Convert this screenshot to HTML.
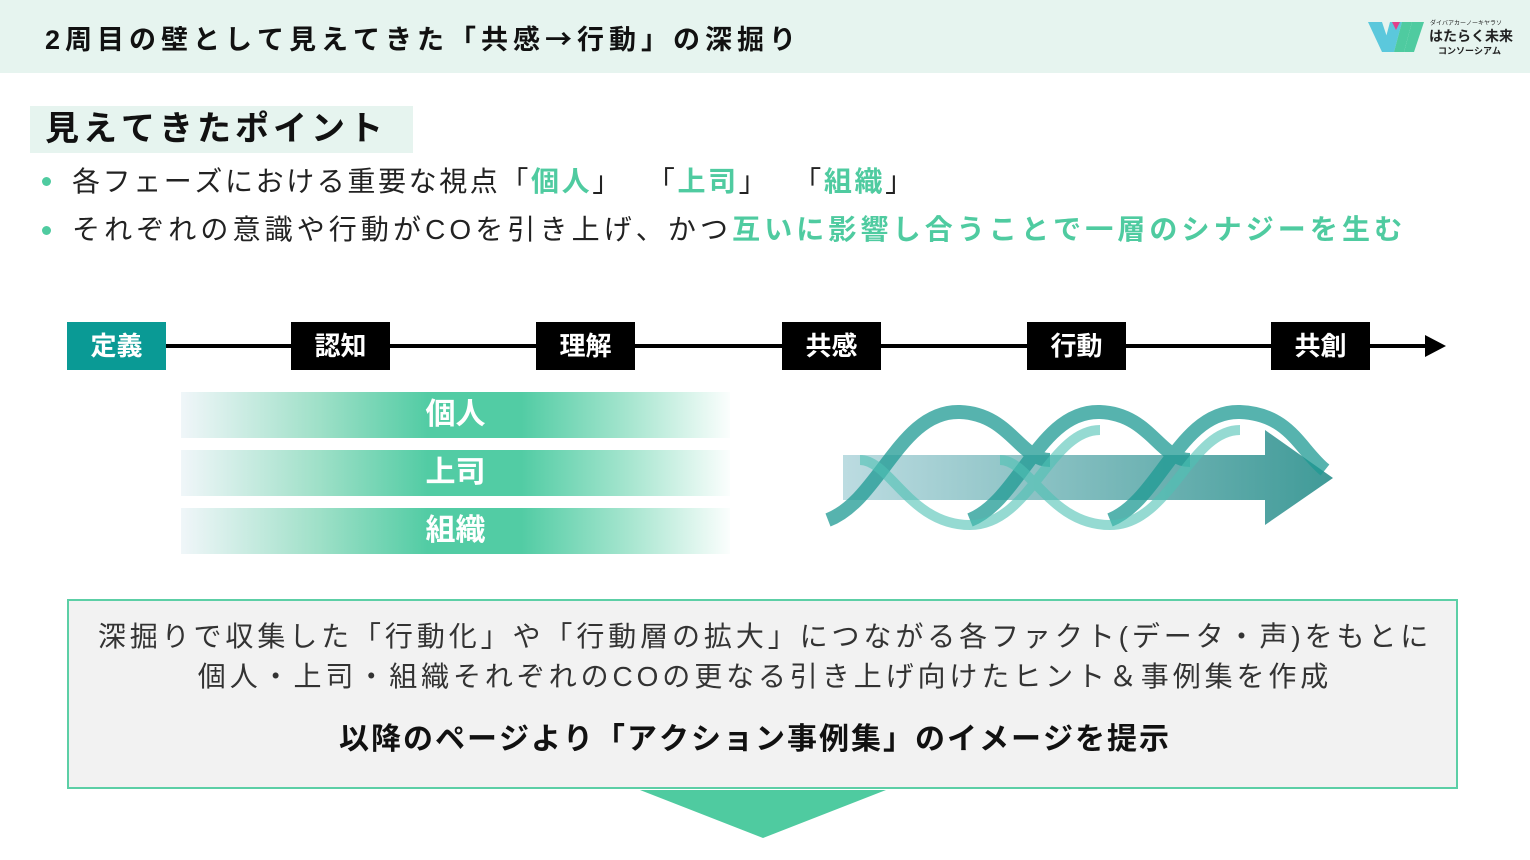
<!DOCTYPE html>
<html><head><meta charset="utf-8"><style>
body{margin:0;width:1530px;height:860px;position:relative;background:#fff;font-family:"Liberation Sans","Noto Sans CJK JP",sans-serif;overflow:hidden;color:#222;font-kerning:none}
.abs{position:absolute;white-space:nowrap}
.hdr{left:0;top:0;width:1530px;height:73px;background:#e6f4ef}
.g{color:#4fcba0;font-weight:bold}
.tb{position:absolute;top:322px;width:99px;height:48px;background:#000;color:#fff;font-weight:bold;font-size:26px;text-align:center;line-height:48px}
.bar{position:absolute;left:181px;width:549px;height:46px;background:linear-gradient(90deg,#f0f6f9 0%,#9fe0c8 25%,#52cca4 45%,#52cca4 62%,#a8e6d0 82%,#fbfefd 100%);color:#fff;font-weight:bold;font-size:30px;text-align:center;line-height:46px}
.cj{font-family:"Noto Sans CJK JP",sans-serif}
.sp{display:inline-block;width:24px}
</style></head><body>
<div class="abs hdr"></div>
<div class="abs" style="left:45px;top:18px;font-size:27px;font-weight:bold;letter-spacing:5px;color:#111">2周目の壁として見えてきた「共感<span class="cj">→</span>行動」の深掘り</div>
<svg class="abs" style="left:1368px;top:20px" width="60" height="36"><polygon points="0,2 14,2 24,32 14,32" fill="#5bc8dc"/><polygon points="14,32 22,2 34,2 26,32" fill="#5bc8dc"/><polygon points="26,32 34,2 44,2 36,32" fill="#4fcba0"/><polygon points="36,32 44,2 56,2 46,32" fill="#4fcba0"/><polygon points="24,2 32,2 28,10" fill="#e0408a"/></svg>
<div class="abs" style="left:1430px;top:18px;font-size:6px;color:#222">ダイバアカーノーキヤラソ</div>
<div class="abs" style="left:1429px;top:26px;font-size:14px;font-weight:bold;color:#222">はたらく未来</div>
<div class="abs" style="left:1438px;top:44px;font-size:9px;font-weight:bold;color:#222">コンソーシアム</div>

<div class="abs" style="left:30px;top:106px;width:383px;height:47px;background:#e6f4ef"></div>
<div class="abs" style="left:45px;top:106px;font-size:34px;font-weight:bold;letter-spacing:4px;line-height:47px;color:#111">見えてきたポイント</div>

<div class="abs" style="left:42px;top:177px;width:9px;height:9px;border-radius:50%;background:#4fcba0"></div>
<div class="abs" style="left:72px;top:164px;font-size:28px;letter-spacing:2.6px;line-height:36px">各フェーズにおける重要な視点「<span class="g">個人</span>」<span class="sp"></span>「<span class="g">上司</span>」<span class="sp"></span>「<span class="g">組織</span>」</div>
<div class="abs" style="left:42px;top:226px;width:9px;height:9px;border-radius:50%;background:#4fcba0"></div>
<div class="abs" style="left:72px;top:212px;font-size:28px;letter-spacing:4.1px;line-height:36px">それぞれの意識や行動がCOを引き上げ、かつ<span class="g">互いに影響し合うことで一層のシナジーを生む</span></div>

<div class="abs" style="left:160px;top:344px;width:1270px;height:4px;background:#000"></div>
<div class="abs" style="left:1425px;top:335px;width:0;height:0;border-left:21px solid #000;border-top:11px solid transparent;border-bottom:11px solid transparent"></div>
<div class="tb" style="left:67px;background:#0a9a95">定義</div>
<div class="tb" style="left:291px">認知</div>
<div class="tb" style="left:536px">理解</div>
<div class="tb" style="left:782px">共感</div>
<div class="tb" style="left:1027px">行動</div>
<div class="tb" style="left:1271px">共創</div>

<div class="bar" style="top:392px">個人</div>
<div class="bar" style="top:450px">上司</div>
<div class="bar" style="top:508px">組織</div>

<svg class="abs" style="left:820px;top:400px" width="520" height="140">
<defs><linearGradient id="ag" x1="0" x2="1"><stop offset="0" stop-color="#b5d8de"/><stop offset="1" stop-color="#2a8f8c"/></linearGradient></defs>
<polygon points="23,55 445,55 445,30 513,78 445,125 445,100 23,100" fill="url(#ag)" opacity="0.9"/>
<path d="M8,120 C60,100 80,10 140,12 C190,14 200,60 230,60 M150,120 C200,100 220,10 280,12 C330,14 340,60 370,60 M290,120 C340,100 360,10 420,12 C470,14 480,50 505,70" fill="none" stroke="#1d9a93" stroke-width="14" opacity="0.75"/>
<path d="M40,60 C70,60 90,125 150,125 C210,125 230,30 280,30 M180,60 C210,60 230,125 290,125 C350,125 370,30 420,30" fill="none" stroke="#4fc2b4" stroke-width="10" opacity="0.6"/>
</svg>

<div class="abs" style="left:67px;top:599px;width:1387px;height:186px;background:#f2f2f2;border:2px solid #5ccfa6"></div>
<div class="abs" style="left:0;width:1530px;top:617px;text-align:center;font-size:28px;letter-spacing:3.9px;line-height:40px;color:#333">深掘りで収集した「行動化」や「行動層の拡大」につながる各ファクト(データ・声)をもとに<br>個人・上司・組織それぞれのCOの更なる引き上げ向けたヒント＆事例集を作成</div>
<div class="abs" style="left:0;width:1510px;top:714px;text-align:center;font-size:30px;font-weight:bold;letter-spacing:2px;color:#111">以降のページより「アクション事例集」のイメージを提示</div>
<div class="abs" style="left:640px;top:790px;width:0;height:0;border-top:48px solid #4fcba0;border-left:123px solid transparent;border-right:123px solid transparent"></div>
</body></html>
